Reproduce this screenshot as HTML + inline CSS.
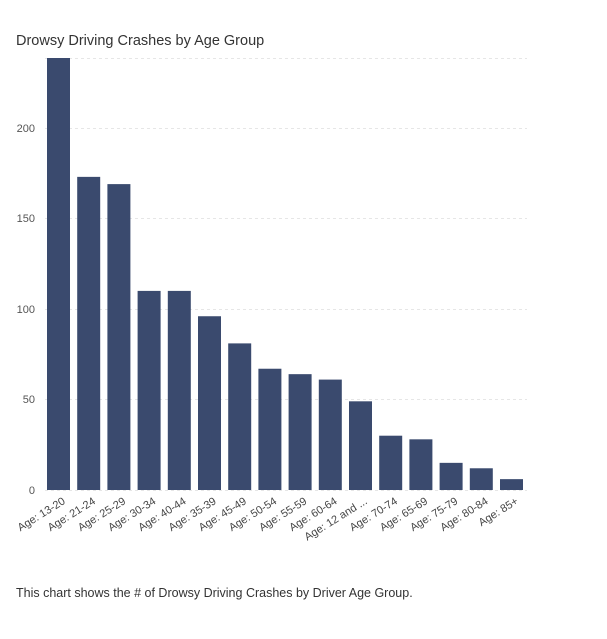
<!DOCTYPE html>
<html><head><meta charset="utf-8"><style>
body{margin:0;background:#fff;width:607px;height:634px;overflow:hidden;font-family:"Liberation Sans",sans-serif;}
</style></head><body>
<svg width="607" height="634" xmlns="http://www.w3.org/2000/svg" font-family="Liberation Sans, sans-serif">
<text x="16" y="45" font-size="14.5" fill="#333">Drowsy Driving Crashes by Age Group</text>
<g stroke="#e6e6e6" stroke-dasharray="3,3" stroke-width="1">
<line x1="45" x2="527" y1="58.5" y2="58.5"/>
<line x1="45" x2="527" y1="128.5" y2="128.5"/>
<line x1="45" x2="527" y1="218.5" y2="218.5"/>
<line x1="45" x2="527" y1="309.5" y2="309.5"/>
<line x1="45" x2="527" y1="399.5" y2="399.5"/>
<line x1="45" x2="527" y1="490.5" y2="490.5"/>
</g>
<g font-size="11" fill="#555" text-anchor="end">
<text x="35" y="132">200</text>
<text x="35" y="222">150</text>
<text x="35" y="313">100</text>
<text x="35" y="403">50</text>
<text x="35" y="494">0</text>
</g>
<g fill="#3a4a6e" id="bars"></g>
<g font-size="11" fill="#444" text-anchor="end" id="labels"></g>
<text x="16" y="597" font-size="12.5" fill="#333">This chart shows the # of Drowsy Driving Crashes by Driver Age Group.</text>
<script>
var v=[240,173,169,110,110,96,81,67,64,61,49,30,28,15,12,6];
var l=["Age: 13-20","Age: 21-24","Age: 25-29","Age: 30-34","Age: 40-44","Age: 35-39","Age: 45-49","Age: 50-54","Age: 55-59","Age: 60-64","Age: 12 and ...","Age: 70-74","Age: 65-69","Age: 75-79","Age: 80-84","Age: 85+"];
var ns="http://www.w3.org/2000/svg",b=document.getElementById("bars"),t=document.getElementById("labels");
for(var i=0;i<16;i++){var x=47+i*30.2,h=Math.min(v[i]*1.81,432);
var r=document.createElementNS(ns,"rect");r.setAttribute("x",x);r.setAttribute("y",490-h);r.setAttribute("width",23);r.setAttribute("height",h);b.appendChild(r);
var tx=document.createElementNS(ns,"text"),cx=x+19,cy=503;tx.setAttribute("x",cx);tx.setAttribute("y",cy);tx.setAttribute("transform","rotate(-32 "+cx+" "+cy+")");tx.textContent=l[i];t.appendChild(tx);}
</script>
</svg>
</body></html>
